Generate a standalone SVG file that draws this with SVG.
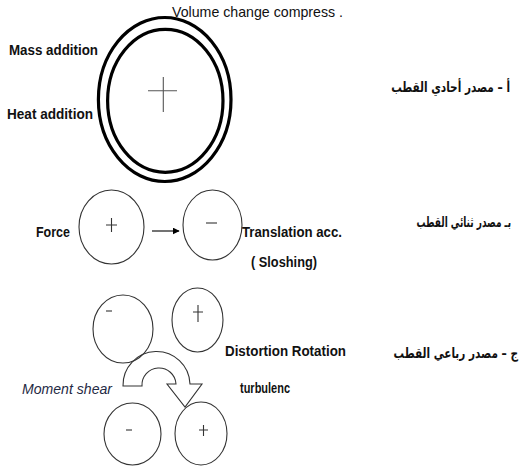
<svg xmlns="http://www.w3.org/2000/svg" width="528" height="467" viewBox="0 0 528 467">
<defs>
<style>
.lbl{font-family:"Liberation Sans",Arial,sans-serif;font-size:14.5px;fill:#111;font-weight:bold}
.reg{font-weight:normal}
.ar{font-family:"DejaVu Sans","Noto Sans",sans-serif;font-size:14px;font-weight:bold;fill:#111}
.thick{fill:none;stroke:#000;stroke-width:3.2}
.thin{fill:none;stroke:#333;stroke-width:1.1}
.sign{stroke:#333;stroke-width:1.1;fill:none}
</style>
<marker id="ah" viewBox="0 0 10 10" refX="9" refY="5" markerWidth="7" markerHeight="7" markerUnits="userSpaceOnUse" orient="auto">
<path d="M0,0 L10,5 L0,10 Z" fill="#000"/>
</marker>
</defs>
<rect width="528" height="467" fill="#fff"/>

<g id="monopole">
<ellipse class="thick" cx="164.7" cy="99.5" rx="66.3" ry="82"/>
<ellipse class="thick" cx="165.3" cy="100.8" rx="57.7" ry="71.5"/>
<path d="M148,90.7 H177 M163.3,77 V112" stroke="#555" stroke-width="1.1" fill="none"/>
</g>
<text class="lbl reg" x="172" y="17" textLength="171" lengthAdjust="spacingAndGlyphs">Volume change compress .</text>
<text class="lbl" x="9" y="55" textLength="89" lengthAdjust="spacingAndGlyphs">Mass addition</text>
<text class="lbl" x="7" y="119" textLength="86" lengthAdjust="spacingAndGlyphs">Heat addition</text>
<text class="ar" transform="translate(510,92) scale(0.75,1)" x="0" y="0" direction="rtl" text-anchor="start">أ – مصدر أحادي القطب</text>

<g id="dipole-plus">
<ellipse class="thin" cx="111.5" cy="227" rx="32.5" ry="37"/>
<path class="sign" d="M106,225 H117 M111.5,218 V232"/>
</g>
<g id="dipole-minus">
<ellipse class="thin" cx="212.5" cy="225" rx="29.5" ry="35"/>
<path class="sign" d="M206,223 H217"/>
</g>
<g id="connectors">
<line x1="152" y1="231" x2="179" y2="231" stroke="#000" stroke-width="1.1" marker-end="url(#ah)"/>
<path d="M123,386 L142,386 A17,17 0 0 1 176,384 L167,384 L185,407 L202,384 L190,384 A33.5,33.5 0 0 0 123,386 Z" fill="#fff" stroke="#333" stroke-width="1.1" stroke-linejoin="miter"/>
</g>
<text class="lbl" x="36" y="237" textLength="34" lengthAdjust="spacingAndGlyphs">Force</text>
<text class="lbl" x="242" y="237" textLength="100" lengthAdjust="spacingAndGlyphs">Translation acc.</text>
<text class="lbl" x="251" y="267" textLength="66" lengthAdjust="spacingAndGlyphs">( Sloshing)</text>
<text class="ar" transform="translate(511,227) scale(0.64,1)" x="0" y="0" direction="rtl" text-anchor="start">بـ مصدر ثنائي القطب</text>

<g id="quad-tl">
<ellipse class="thin" cx="123" cy="329" rx="30" ry="34"/>
<path class="sign" d="M106,311 H112"/>
</g>
<g id="quad-tr">
<ellipse class="thin" cx="197.5" cy="320" rx="25.5" ry="32"/>
<path class="sign" d="M193,312 H203 M198,305 V322"/>
</g>
<g id="quad-bl">
<ellipse class="thin" cx="132.5" cy="434" rx="28.5" ry="31"/>
<path class="sign" d="M126,430 H132"/>
</g>
<g id="quad-br">
<ellipse class="thin" cx="201" cy="433.5" rx="26" ry="31.5"/>
<path class="sign" d="M199,430 H208 M203.5,425 V436"/>
</g>
<text class="lbl reg" x="22" y="394" font-style="italic" textLength="90" lengthAdjust="spacingAndGlyphs" style="fill:#1f2a44">Moment shear</text>
<text class="lbl" x="225" y="356" textLength="121" lengthAdjust="spacingAndGlyphs">Distortion Rotation</text>
<text class="lbl" x="240" y="393" textLength="50" lengthAdjust="spacingAndGlyphs">turbulenc</text>
<text class="ar" transform="translate(518,358) scale(0.75,1)" x="0" y="0" direction="rtl" text-anchor="start">ج – مصدر رباعي القطب</text>
</svg>
